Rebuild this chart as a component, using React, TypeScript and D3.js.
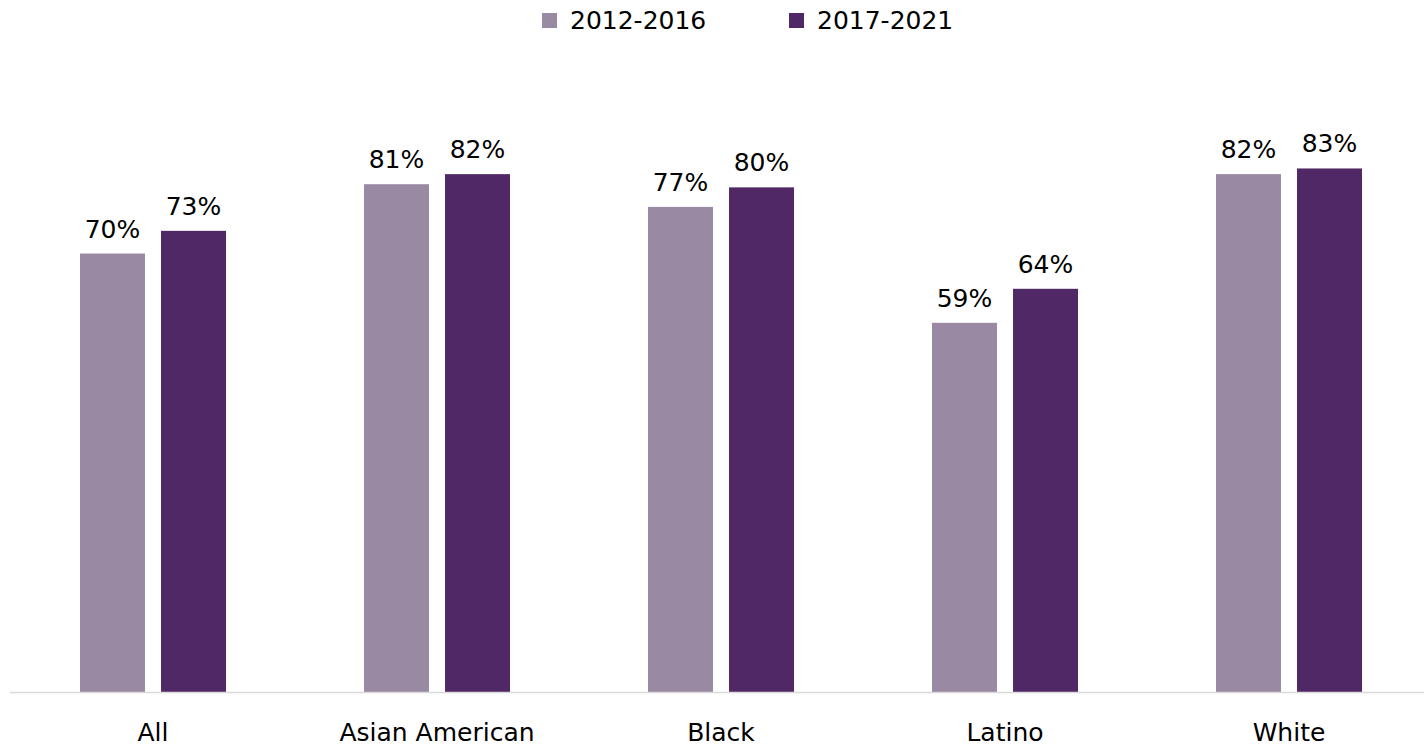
import React from "react";
import * as d3 from "d3";

const categories = ["All", "Asian American", "Black", "Latino", "White"];
const seriesNames = ["2012-2016", "2017-2021"];
const values2012 = [69.6, 80.6, 77.0, 58.6, 82.2];
const values2017 = [73.2, 82.2, 80.1, 64.0, 83.1];
const colors = ["#9A89A3", "#502866"];

const W = 1424;
const H = 746;
const FONT = "'DejaVu Sans', sans-serif";

export default function App() {
  const x0 = d3.scaleBand<string>().domain(categories).range([11, 1431]).padding(0);
  const x1 = d3
    .scaleBand<string>()
    .domain(seriesNames)
    .range([69, 215])
    .paddingInner(0.198)
    .paddingOuter(0);
  const y = d3.scaleLinear().domain([0, 100]).range([692, 62]);
  const series = [values2012, values2017];
  const fmt = (v: number) => `${Math.round(v)}%`;

  const legendX = [542, 789];

  return (
    <svg
      width={W}
      height={H}
      style={{ position: "absolute", left: 0, top: 0, display: "block", background: "#fff" }}
      fontFamily={FONT}
    >
      {seriesNames.map((s, i) => (
        <g key={s}>
          <rect x={legendX[i]} y={13} width={15} height={15} fill={colors[i]} />
          <text x={legendX[i] + 28} y={29} fontSize={25} fill="#000">
            {s}
          </text>
        </g>
      ))}
      {categories.map((c, ci) => (
        <g key={c} transform={`translate(${x0(c)},0)`}>
          {seriesNames.map((s, si) => {
            const v = series[si][ci];
            const bx = x1(s)!;
            const bw = x1.bandwidth();
            return (
              <g key={s}>
                <rect x={bx} y={y(v)} width={bw} height={y(0) - y(v)} fill={colors[si]} />
                <text
                  x={bx + bw / 2}
                  y={y(v) - 16}
                  textAnchor="middle"
                  fontSize={25}
                  fill="#000"
                >
                  {fmt(v)}
                </text>
              </g>
            );
          })}
          <text x={x0.bandwidth() / 2} y={741} textAnchor="middle" fontSize={25} fill="#000">
            {c}
          </text>
        </g>
      ))}
      <line x1={10} x2={1424} y1={y(0) + 0.5} y2={y(0) + 0.5} stroke="#D9D9D9" strokeWidth={1.5} />
    </svg>
  );
}
